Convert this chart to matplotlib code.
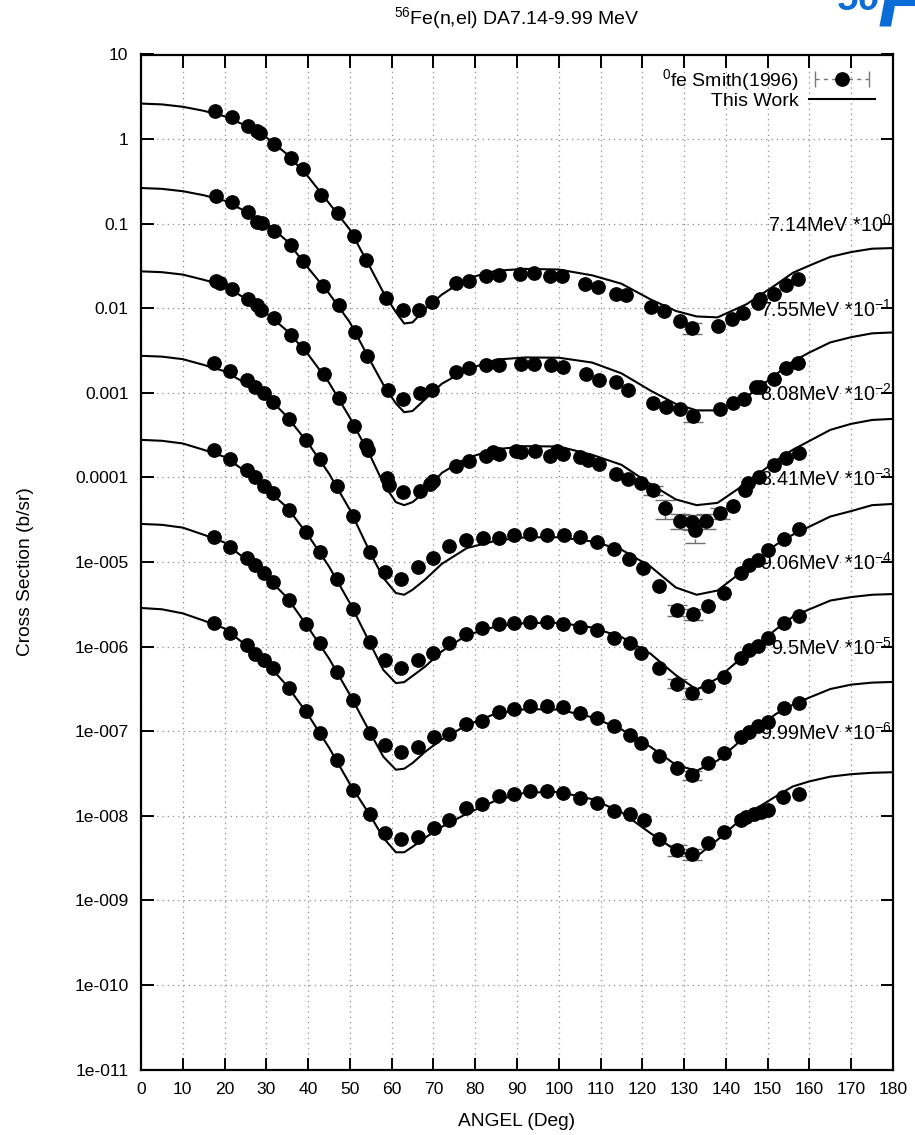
import numpy as np
import matplotlib
matplotlib.use("Agg")
import matplotlib.pyplot as plt
from matplotlib.lines import Line2D
from matplotlib.legend_handler import HandlerLine2D, HandlerTuple
from matplotlib.ticker import FixedLocator, FixedFormatter, NullLocator

plt.rcParams['font.family'] = ['Liberation Sans', 'DejaVu Sans']
plt.rcParams['mathtext.default'] = 'regular'

# ---------------------------------------------------------------------------
# Incident energies and the decade offsets used to stack the distributions
energies = ['7.14', '7.55', '8.08', '8.41', '9.06', '9.5', '9.99']
scale_exp = [0, -1, -2, -3, -4, -5, -6]

# Measured elastic angular distributions, Smith (1996), b/sr (unscaled)
ang_714 = [17.7, 21.7, 25.6, 27.7, 28.6, 31.9, 35.9, 38.7, 43.2, 47.2, 51.1, 53.9, 58.7, 62.6,
           66.5, 69.6, 75.3, 78.5, 82.5, 85.6, 90.8, 94.0, 98.0, 100.8, 106.3, 109.5, 113.6,
           116.1, 122.1, 125.3, 128.9, 132.0, 138.1, 141.5, 144.2, 147.6, 148.1, 151.4, 154.4, 157.3]
xs_714 = [2.17, 1.83, 1.42, 1.24, 1.18, 0.885, 0.604, 0.444, 0.220, 0.134, 0.0708, 0.0375, 0.0132,
          0.0096, 0.0096, 0.0117, 0.0199, 0.0211, 0.0243, 0.0249, 0.0256, 0.0261, 0.0238, 0.0238,
          0.0195, 0.0178, 0.0149, 0.0145, 0.0103, 0.0093, 0.00698, 0.00583, 0.00625, 0.00745,
          0.00877, 0.0115, 0.0128, 0.0149, 0.0190, 0.0223]

ang_755 = [17.9, 21.9, 25.7, 27.7, 28.9, 31.9, 36.0, 38.7, 43.6, 47.3, 51.2, 54.1, 59.1, 62.7,
           66.7, 69.6, 75.5, 78.6, 82.6, 85.6, 91.0, 94.1, 98.1, 101.0, 106.6, 109.7, 113.7,
           116.6, 122.5, 125.7, 129.0, 132.2, 138.7, 141.6, 144.4, 147.2, 148.2, 151.4, 154.4, 157.3]
xs_755 = [2.14, 1.79, 1.36, 1.06, 1.03, 0.826, 0.564, 0.365, 0.181, 0.110, 0.0531, 0.0276, 0.0109,
          0.0085, 0.0099, 0.0109, 0.0175, 0.0198, 0.0216, 0.0213, 0.0219, 0.0219, 0.0216, 0.0200,
          0.0165, 0.0143, 0.0133, 0.0109, 0.00755, 0.00678, 0.00641, 0.00538, 0.00647, 0.00755,
          0.0085, 0.0117, 0.0117, 0.0147, 0.0196, 0.0224]

ang_808 = [17.9, 18.9, 21.9, 25.6, 27.7, 28.7, 31.9, 36.0, 38.8, 43.7, 47.3, 51.1, 53.8, 54.3,
           58.9, 59.3, 62.6, 66.7, 69.2, 69.8, 75.3, 78.6, 82.6, 84.2, 85.6, 89.8, 91.0, 94.2,
           98.0, 99.6, 101.0, 105.0, 106.9, 109.6, 113.8, 116.6, 119.7, 122.5, 125.5, 129.0,
           132.0, 132.6, 135.2, 138.7, 141.6, 144.6, 145.2, 148.0, 151.4, 154.4, 157.5]
xs_808 = [2.11, 1.99, 1.69, 1.29, 1.10, 0.96, 0.766, 0.485, 0.338, 0.168, 0.0865, 0.0409, 0.0240,
          0.0210, 0.0098, 0.0081, 0.00664, 0.00692, 0.00826, 0.0091, 0.0137, 0.0158, 0.0179,
          0.0202, 0.0190, 0.0207, 0.0199, 0.0206, 0.0179, 0.0207, 0.0190, 0.0173, 0.0161, 0.0145,
          0.0111, 0.0096, 0.0085, 0.00711, 0.00432, 0.00306, 0.0030, 0.00239, 0.00306, 0.00383,
          0.0046, 0.00711, 0.0085, 0.0102, 0.0141, 0.0169, 0.0197]

ang_841 = [17.5, 21.4, 25.4, 27.4, 29.4, 31.5, 35.5, 39.4, 42.8, 46.9, 50.8, 54.7, 58.3, 62.3,
           66.3, 70.0, 73.7, 77.8, 81.8, 85.7, 89.4, 93.2, 97.1, 101.2, 105.1, 109.1, 113.3,
           116.8, 120.1, 123.9, 128.2, 132.2, 135.7, 139.6, 143.6, 145.6, 147.6, 150.0, 153.8, 157.6]
xs_841 = [2.24, 1.79, 1.43, 1.17, 0.99, 0.789, 0.489, 0.278, 0.166, 0.0793, 0.0350, 0.0132,
          0.00767, 0.00632, 0.00865, 0.0111, 0.0156, 0.0180, 0.0192, 0.0192, 0.0207, 0.0216,
          0.0211, 0.0209, 0.0198, 0.0174, 0.0141, 0.0108, 0.00841, 0.00520, 0.00270, 0.00243,
          0.00304, 0.00427, 0.00735, 0.0092, 0.0106, 0.0139, 0.0186, 0.0244]

ang_906 = [17.5, 21.3, 25.4, 27.4, 29.4, 31.5, 35.5, 39.4, 42.8, 46.9, 50.8, 54.7, 58.3, 62.3,
           66.3, 70.0, 73.7, 77.7, 81.7, 85.7, 89.2, 93.2, 97.1, 101.1, 105.1, 109.1, 113.1,
           117.1, 119.7, 124.1, 128.2, 132.0, 135.7, 139.6, 143.6, 145.6, 147.6, 150.0, 153.8, 157.6]
xs_906 = [2.12, 1.64, 1.23, 1.00, 0.793, 0.661, 0.412, 0.229, 0.132, 0.0624, 0.0275, 0.0112,
          0.00692, 0.00564, 0.00692, 0.00849, 0.0111, 0.0139, 0.0164, 0.0183, 0.0188, 0.0196,
          0.0196, 0.0183, 0.0171, 0.0157, 0.0128, 0.0109, 0.00845, 0.00552, 0.00366, 0.00279,
          0.00341, 0.00440, 0.00724, 0.0091, 0.0101, 0.0125, 0.0188, 0.0231]

ang_950 = [17.5, 21.3, 25.4, 27.4, 29.4, 31.5, 35.5, 39.4, 42.8, 46.9, 50.7, 54.7, 58.3, 62.3,
           66.3, 70.1, 73.7, 77.7, 81.7, 85.7, 89.2, 93.2, 97.1, 101.1, 105.1, 109.1, 113.1,
           117.1, 119.7, 124.1, 128.2, 132.0, 135.7, 139.6, 143.6, 145.6, 147.6, 150.0, 153.8, 157.6]
xs_950 = [1.99, 1.52, 1.11, 0.921, 0.735, 0.585, 0.355, 0.185, 0.110, 0.0504, 0.0233, 0.00955,
          0.00683, 0.00561, 0.00647, 0.00849, 0.0092, 0.0121, 0.0132, 0.0169, 0.0181, 0.0198,
          0.0198, 0.0191, 0.0162, 0.0145, 0.0115, 0.00897, 0.00715, 0.00506, 0.00362, 0.00301,
          0.00415, 0.00545, 0.00857, 0.0098, 0.0115, 0.0129, 0.0186, 0.0213]

ang_999 = [17.5, 21.3, 25.4, 27.4, 29.4, 31.5, 35.5, 39.4, 42.8, 46.8, 50.7, 54.7, 58.3, 62.3,
           66.3, 70.1, 73.7, 77.7, 81.7, 85.7, 89.2, 93.2, 97.1, 101.1, 105.1, 109.1, 113.1,
           117.1, 120.3, 124.1, 128.2, 132.0, 135.7, 139.6, 143.6, 144.8, 146.8, 148.4, 150.0,
           153.6, 157.6]
xs_999 = [1.88, 1.46, 1.03, 0.822, 0.692, 0.557, 0.320, 0.174, 0.0955, 0.0462, 0.0204, 0.0104,
          0.00621, 0.00537, 0.00568, 0.00724, 0.00885, 0.0122, 0.0139, 0.0170, 0.0183, 0.0195,
          0.0195, 0.0186, 0.0163, 0.0142, 0.0113, 0.0106, 0.00885, 0.00537, 0.00391, 0.00350,
          0.00473, 0.00643, 0.00885, 0.00968, 0.0106, 0.0111, 0.0116, 0.0167, 0.0183]

# Relative uncertainties large enough to show outside the symbols (angle -> fraction)
rel_err = [
    {132.0: 0.15},
    {132.2: 0.15},
    {122.5: 0.12, 125.5: 0.25, 129.0: 0.2, 132.0: 0.2, 132.6: 0.3, 135.2: 0.2, 138.7: 0.15},
    {128.2: 0.15, 132.2: 0.15},
    {128.2: 0.12, 132.0: 0.15},
    {132.0: 0.12},
    {128.2: 0.15, 132.0: 0.15},
]

# Calculated distributions (this work), b/sr (unscaled)
calc_ang = [0, 5, 10, 15, 20, 25, 30, 35, 40, 45, 50, 55, 58, 61, 63, 65, 68, 72, 78, 85, 92,
            100, 108, 115, 122, 128, 133, 138, 145, 152, 156, 160, 165, 170, 175, 180]
calc_714 = [2.63, 2.57, 2.41, 2.16, 1.86, 1.45, 1.05, 0.66, 0.36, 0.175, 0.085, 0.0295, 0.0154,
            0.0090, 0.0066, 0.0068, 0.0098, 0.0145, 0.0225, 0.0278, 0.0292, 0.0287, 0.0245,
            0.0195, 0.0127, 0.0093, 0.0080, 0.0078, 0.0112, 0.0190, 0.0262, 0.0320, 0.0405,
            0.0462, 0.0506, 0.0515]
calc_755 = [2.64, 2.58, 2.42, 2.17, 1.87, 1.40, 1.02, 0.62, 0.30, 0.150, 0.068, 0.0233, 0.0125,
            0.0075, 0.0059, 0.0061, 0.0084, 0.0128, 0.0188, 0.0247, 0.0262, 0.0260, 0.0228,
            0.0170, 0.0106, 0.0074, 0.0062, 0.0062, 0.0090, 0.0165, 0.0235, 0.0300, 0.0395,
            0.0455, 0.0505, 0.0518]
calc_808 = [2.73, 2.67, 2.50, 2.17, 1.85, 1.30, 0.875, 0.54, 0.285, 0.132, 0.0508, 0.0175,
            0.0085, 0.0051, 0.0047, 0.0051, 0.0068, 0.0113, 0.0170, 0.0215, 0.0234, 0.0232,
            0.0185, 0.0141, 0.0083, 0.0055, 0.0047, 0.0050, 0.0086, 0.0158, 0.0212, 0.0270,
            0.0365, 0.0430, 0.0478, 0.0492]
calc_841 = [2.74, 2.68, 2.50, 2.14, 1.80, 1.30, 0.93, 0.52, 0.254, 0.111, 0.0414, 0.0125,
            0.0065, 0.0043, 0.0041, 0.0047, 0.0062, 0.0095, 0.0146, 0.0179, 0.0196, 0.0196,
            0.0175, 0.0140, 0.0088, 0.0050, 0.0041, 0.0046, 0.0085, 0.0160, 0.0210, 0.0262,
            0.0345, 0.0400, 0.0470, 0.0486]
calc_906 = [2.78, 2.71, 2.52, 2.12, 1.75, 1.18, 0.73, 0.44, 0.207, 0.0885, 0.0326, 0.0105,
            0.0053, 0.0037, 0.0038, 0.0045, 0.0058, 0.0088, 0.0137, 0.0173, 0.0190, 0.0191,
            0.0168, 0.0130, 0.0082, 0.0046, 0.0031, 0.0042, 0.0083, 0.0160, 0.0225, 0.0276,
            0.0350, 0.0385, 0.0410, 0.0418]
calc_950 = [2.82, 2.75, 2.55, 2.10, 1.70, 1.08, 0.67, 0.378, 0.169, 0.0723, 0.0269, 0.0093,
            0.0050, 0.0035, 0.0036, 0.0042, 0.0057, 0.0080, 0.0118, 0.0162, 0.0182, 0.0180,
            0.0146, 0.0105, 0.0065, 0.0040, 0.0034, 0.0045, 0.0089, 0.0160, 0.0205, 0.0250,
            0.0315, 0.0355, 0.0375, 0.0382]
calc_999 = [2.86, 2.76, 2.47, 2.03, 1.64, 1.05, 0.64, 0.343, 0.156, 0.064, 0.0237, 0.0098,
            0.0055, 0.0037, 0.0037, 0.0043, 0.0055, 0.0074, 0.0106, 0.0152, 0.0188, 0.0191,
            0.0157, 0.0110, 0.0062, 0.0039, 0.0033, 0.0052, 0.0104, 0.0170, 0.0222, 0.0255,
            0.0290, 0.0310, 0.0322, 0.0327]

exp_angles = [ang_714, ang_755, ang_808, ang_841, ang_906, ang_950, ang_999]
exp_values = [xs_714, xs_755, xs_808, xs_841, xs_906, xs_950, xs_999]
calc_values = [calc_714, calc_755, calc_808, calc_841, calc_906, calc_950, calc_999]

x_ticks = list(range(0, 181, 10))
y_tick_values = [10.0 ** p for p in range(1, -12, -1)]
y_tick_labels = ['10', '1', '0.1', '0.01', '0.001', '0.0001', '1e-005', '1e-006', '1e-007',
                 '1e-008', '1e-009', '1e-010', '1e-011']

# ---------------------------------------------------------------------------
W, H = 915, 1135
fig = plt.figure(figsize=(W / 100, H / 100), dpi=100)
ax = fig.add_axes([141 / W, 1 - 1069.5 / H, 752 / W, 1015 / H])

ax.set_yscale('log')
ax.set_xlim(0, 180)
ax.set_ylim(1e-11, 10)

ax.grid(True, which='major', color='#8c8c8c', linestyle=(0, (1, 3.2)), linewidth=0.9)
ax.set_axisbelow(True)

ax.xaxis.set_major_locator(FixedLocator(x_ticks))
ax.yaxis.set_major_locator(FixedLocator(y_tick_values))
ax.yaxis.set_major_formatter(FixedFormatter(y_tick_labels))
ax.yaxis.set_minor_locator(NullLocator())
ax.tick_params(axis='both', which='major', direction='in', length=9, width=1.4,
               top=True, right=True, labelsize=12.6, colors='black')
ax.tick_params(axis='x', pad=9)
ax.tick_params(axis='y', pad=9)
for sp in ax.spines.values():
    sp.set_linewidth(1.6)

MS = 9.6
for k in range(len(energies)):
    f = 10.0 ** scale_exp[k]
    a = np.array(exp_angles[k])
    v = np.array(exp_values[k]) * f

    # uncertainties that stick out of the symbols
    sel = np.array([t in rel_err[k] for t in exp_angles[k]])
    rel = np.array([rel_err[k][t] for t in np.array(exp_angles[k])[sel]])
    if sel.any():
        eb = ax.errorbar(a[sel], v[sel], yerr=rel * v[sel], fmt='none', ecolor='#6e6e6e',
                         elinewidth=1.0, capsize=7, capthick=1.0, zorder=2)
        eb[2][0].set_linestyle((0, (3, 2)))

    ax.plot(a, v, 'o', color='black', ms=MS, zorder=3)
    ax.plot(calc_ang, np.array(calc_values[k]) * f, color='black', lw=1.5, zorder=4)
    ax.text(179.6, 0.08 * f, f"{energies[k]}MeV *10$^{{{scale_exp[k]}}}$",
            ha='right', va='baseline', fontsize=14.2, zorder=5)

# Legend: measured points with error-bar sample, and the calculation
h_err = Line2D([], [], color='#777777', ls=(0, (3, 3)), lw=1.0, marker='|', ms=12, mew=1.0)
h_pt = Line2D([], [], ls='none', marker='o', color='black', ms=MS)
h_fit = Line2D([], [], color='black', lw=1.5)
ax.legend([(h_err, h_pt), h_fit], ['$^{0}$fe Smith(1996)', 'This Work'],
          handler_map={h_err: HandlerLine2D(numpoints=2), tuple: HandlerTuple(ndivide=1)},
          loc='upper right', bbox_to_anchor=(0.976, 0.988), frameon=False,
          markerfirst=False, handlelength=3.4, handletextpad=0.5, labelspacing=0.0,
          fontsize=14, borderaxespad=0, borderpad=0)

ax.set_xlabel('ANGEL (Deg)', fontsize=13.8)
ax.xaxis.label.set_va('center')
ax.xaxis.set_label_coords(0.5, -(1121 - 1069.5) / 1015)
ax.set_ylabel('Cross Section (b/sr)', fontsize=13.8)
ax.yaxis.label.set_va('center')
ax.yaxis.set_label_coords(-(141 - 25) / 752, 0.5 - (572 - 562) / 1015)

fig.text(517 / W, 1 - 18 / H, '$^{56}$Fe(n,el) DA7.14-9.99 MeV', ha='center', va='center',
         fontsize=14)

# Corner mark
fig.text(838 / W, 1 - 10 / H, '56', color='#0a6cd6', fontsize=27, fontweight='bold',
         fontstyle='italic', ha='left', va='baseline')
fig.text(878 / W, 1 - 27 / H, 'F', color='#0a6cd6', fontsize=58, fontweight='bold',
         fontstyle='italic', ha='left', va='baseline')

fig.savefig('out.png', dpi=100)
